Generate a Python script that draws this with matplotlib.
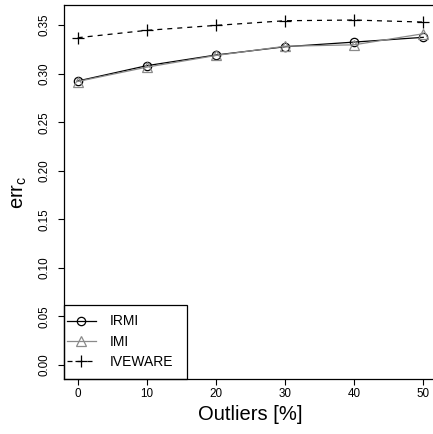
import matplotlib
matplotlib.use("Agg")
import matplotlib.pyplot as plt
from matplotlib.patches import Rectangle

plt.rcParams['font.family'] = ['Liberation Sans', 'DejaVu Sans']
plt.rcParams['mathtext.fontset'] = 'custom'
plt.rcParams['mathtext.rm'] = 'Liberation Sans'

outliers = [0, 10, 20, 30, 40, 50]
irmi = [0.2925, 0.3083, 0.3193, 0.3278, 0.3326, 0.3375]
imi = [0.2920, 0.3068, 0.3188, 0.3283, 0.3298, 0.3412]
iveware = [0.3371, 0.3447, 0.3498, 0.3546, 0.3553, 0.3532]
xticks = [0, 10, 20, 30, 40, 50]
yticks = [0.00, 0.05, 0.10, 0.15, 0.20, 0.25, 0.30, 0.35]

W, H = 433, 434
fig = plt.figure(figsize=(W/100, H/100), dpi=100)
ax = fig.add_axes([63.9/W, (H-378.7)/H, 373.2/W, 373.7/H])

ax.plot(outliers, irmi, color='black', lw=0.9, marker='o', markersize=6,
        markerfacecolor='none', markeredgecolor='black', markeredgewidth=0.9, label='IRMI')
ax.plot(outliers, imi, color='#8a8a8a', lw=0.9, marker='^', markersize=6.5,
        markerfacecolor='none', markeredgecolor='#8a8a8a', markeredgewidth=0.9, label='IMI')
ax.plot(outliers, iveware, color='black', lw=0.9, dashes=(4, 4), marker='+', markersize=8,
        markeredgewidth=0.9, label='IVEWARE')

ax.set_xlim(-2, 52)
ax.set_ylim(-0.0141, 0.3708)
ax.set_xticks(xticks)
ax.set_xticklabels([str(v) for v in xticks])
ax.set_yticks(yticks)
ax.set_yticklabels(['%.2f' % v for v in yticks], rotation=90, va='center')
ax.tick_params(axis='both', direction='out', length=4.3, width=0.8, labelsize=8.4, colors='black')
ax.tick_params(axis='x', pad=2.5)
ax.tick_params(axis='y', pad=5)
for s in ax.spines.values():
    s.set_linewidth(0.9)

ax.set_xlabel('Outliers [%]', fontsize=14.5, labelpad=3.5)
ax.set_ylabel(r'err$_\mathregular{c}$', fontsize=14.5, labelpad=7)

ax.add_patch(Rectangle((0, 0), 0.329, 0.198, transform=ax.transAxes, fill=False,
                       edgecolor='black', lw=0.9, zorder=5, clip_on=False))
leg = ax.legend(loc='center left', bbox_to_anchor=(0.0075, 0.099), frameon=False,
                borderpad=0, handlelength=2.1, handletextpad=1.0, labelspacing=0.45,
                fontsize=10, borderaxespad=0)

fig.savefig('out.png', dpi=100)
